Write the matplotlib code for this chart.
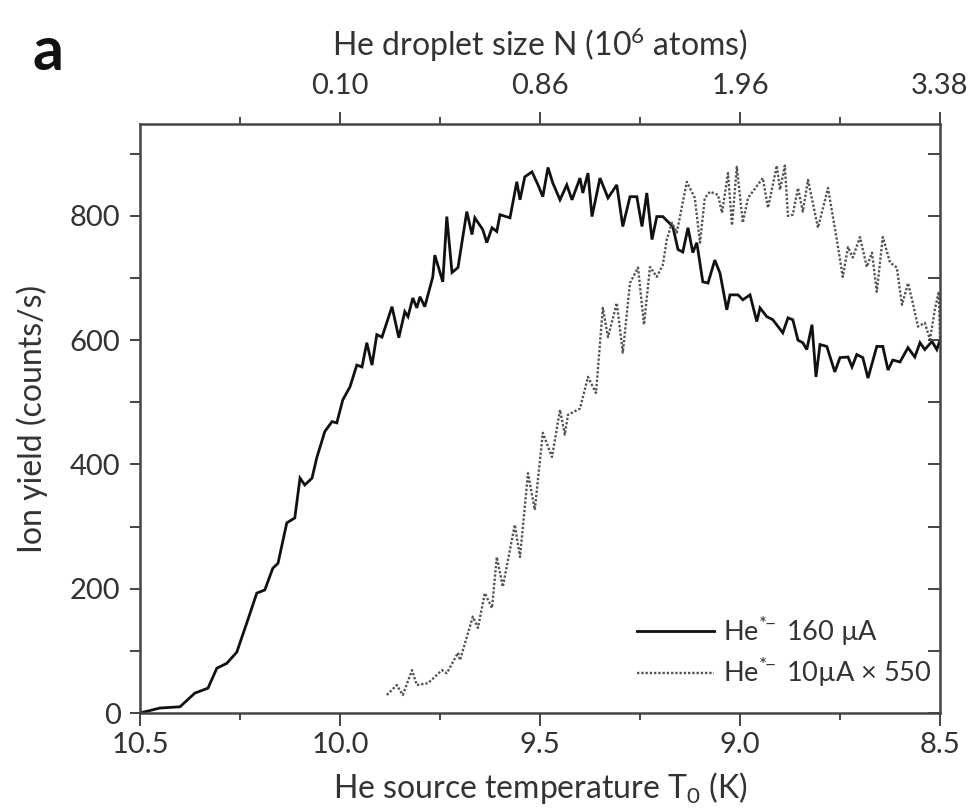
import matplotlib
matplotlib.use("Agg")
import matplotlib.pyplot as plt
from matplotlib import font_manager
from matplotlib.ticker import MultipleLocator, FixedLocator

# ---------------- data ----------------
t_160 = [10.500, 10.450, 10.400, 10.363, 10.330, 10.308, 10.283, 10.258, 10.233, 10.208,
         10.188, 10.168, 10.155, 10.133, 10.113, 10.100, 10.088, 10.070, 10.058, 10.038,
         10.020, 10.008, 9.993, 9.975, 9.958, 9.945, 9.933, 9.920, 9.908, 9.895,
         9.870, 9.853, 9.838, 9.830, 9.818, 9.808, 9.800, 9.788, 9.768, 9.763,
         9.743, 9.733, 9.720, 9.705, 9.683, 9.670, 9.663, 9.643, 9.633, 9.620,
         9.608, 9.600, 9.575, 9.558, 9.550, 9.538, 9.520, 9.505, 9.493, 9.480,
         9.468, 9.450, 9.433, 9.420, 9.400, 9.393, 9.380, 9.370, 9.350, 9.330,
         9.308, 9.293, 9.275, 9.258, 9.245, 9.233, 9.220, 9.208, 9.193, 9.168,
         9.155, 9.143, 9.130, 9.118, 9.108, 9.093, 9.080, 9.063, 9.050, 9.033,
         9.025, 9.005, 8.993, 8.975, 8.958, 8.950, 8.933, 8.918, 8.893, 8.880,
         8.868, 8.855, 8.843, 8.833, 8.820, 8.810, 8.800, 8.783, 8.763, 8.750,
         8.730, 8.720, 8.708, 8.693, 8.680, 8.658, 8.643, 8.630, 8.618, 8.600,
         8.580, 8.563, 8.550, 8.538, 8.520, 8.508, 8.500]
y_160 = [0, 8, 10, 32, 40, 72, 80, 98, 145, 193,
         198, 233, 241, 306, 314, 378, 367, 378, 411, 453,
         469, 467, 504, 525, 560, 557, 596, 560, 609, 605,
         654, 604, 646, 638, 668, 652, 670, 654, 702, 737,
         694, 799, 709, 717, 807, 770, 797, 778, 757, 781,
         775, 802, 797, 855, 826, 863, 871, 850, 831, 878,
         853, 826, 850, 826, 861, 837, 869, 799, 861, 829,
         850, 783, 831, 831, 783, 837, 762, 799, 799, 783,
         746, 742, 781, 741, 757, 694, 692, 729, 708, 649,
         673, 673, 665, 673, 630, 652, 638, 633, 612, 636,
         633, 600, 596, 585, 625, 541, 593, 590, 549, 572,
         573, 557, 577, 572, 539, 590, 590, 552, 568, 565,
         588, 573, 596, 585, 598, 585, 600]

t_10 = [9.883, 9.858, 9.843, 9.820, 9.808, 9.780, 9.745, 9.733, 9.705, 9.700,
        9.668, 9.655, 9.638, 9.620, 9.608, 9.593, 9.563, 9.550, 9.530, 9.513,
        9.493, 9.470, 9.450, 9.438, 9.430, 9.400, 9.380, 9.360, 9.343, 9.330,
        9.308, 9.293, 9.275, 9.255, 9.240, 9.225, 9.208, 9.193, 9.183, 9.170,
        9.158, 9.133, 9.113, 9.100, 9.088, 9.075, 9.055, 9.045, 9.030, 9.020,
        9.008, 8.993, 8.980, 8.943, 8.930, 8.908, 8.900, 8.888, 8.880, 8.868,
        8.855, 8.843, 8.830, 8.805, 8.780, 8.758, 8.743, 8.730, 8.718, 8.700,
        8.683, 8.670, 8.658, 8.643, 8.625, 8.608, 8.595, 8.580, 8.568, 8.555,
        8.538, 8.525, 8.513, 8.503, 8.500]
y_10 = [29, 45, 29, 69, 45, 48, 69, 64, 97, 85,
        155, 137, 193, 169, 251, 203, 303, 251, 386, 327,
        451, 412, 488, 448, 480, 490, 541, 515, 652, 605,
        660, 580, 692, 717, 625, 718, 702, 721, 762, 789,
        773, 855, 829, 757, 829, 839, 834, 805, 869, 785,
        879, 789, 829, 861, 813, 881, 842, 881, 800, 802,
        845, 807, 858, 781, 845, 762, 702, 750, 733, 766,
        718, 741, 678, 766, 725, 717, 657, 692, 660, 622,
        628, 601, 649, 678, 600]

x_ticks = [10.5, 10.0, 9.5, 9.0, 8.5]
x_ticklabels = ["10.5", "10.0", "9.5", "9.0", "8.5"]
y_ticks = [0, 200, 400, 600, 800]
top_ticks = [10.0, 9.5, 9.0, 8.5]
top_ticklabels = ["0.10", "0.86", "1.96", "3.38"]

label_160 = r"He$^{*\!\!-}$ 160 µA"
label_10 = r"He$^{*\!\!-}$ 10µA × 550"

# ---------------- fonts ----------------
FONT = "Lato"
FS_TICK = 21
FS_LABEL = 23
FS_LEG = 19.5

plt.rcParams["font.family"] = [FONT, "DejaVu Sans"]
plt.rcParams["mathtext.fontset"] = "custom"
plt.rcParams["mathtext.rm"] = FONT
plt.rcParams["mathtext.it"] = FONT
plt.rcParams["mathtext.bf"] = FONT

TXT = "#333333"
SP = "#444444"

fig = plt.figure(figsize=(9.73, 8.11), dpi=100)
ax = fig.add_axes([140 / 973, 1 - 713 / 811, 800 / 973, 589 / 811])

ax.plot(t_160, y_160, color="#111111", lw=2.0, solid_joinstyle="miter", label=label_160)
ax.plot(t_10, y_10, color="#555555", lw=1.7, linestyle=(0, (1, 0.8)), label=label_10)

ax.set_xlim(10.5, 8.5)
ax.set_ylim(0, 948)

ax.xaxis.set_major_locator(FixedLocator(x_ticks))
ax.set_xticklabels(x_ticklabels)
ax.xaxis.set_minor_locator(MultipleLocator(0.25))
ax.yaxis.set_major_locator(FixedLocator(y_ticks))
ax.yaxis.set_minor_locator(MultipleLocator(100))

ax.tick_params(axis="x", which="major", direction="out", length=9, width=1.4,
               colors=SP, labelcolor=TXT, labelsize=FS_TICK, pad=5)
ax.tick_params(axis="x", which="minor", direction="out", length=5, width=1.4, colors=SP)
ax.tick_params(axis="y", which="both", direction="out", length=7, width=1.4,
               colors=SP, labelcolor=TXT, labelsize=FS_TICK, pad=7, right=False)

for s in ax.spines.values():
    s.set_linewidth(1.8)
    s.set_color(SP)

ax.set_xlabel(r"He source temperature T$_0$ (K)", fontsize=FS_LABEL, color=TXT, labelpad=8)
ax.set_ylabel("Ion yield (counts/s)", fontsize=FS_LABEL, color=TXT, labelpad=16)

# right axis: inward ticks only
axr = ax.twinx()
axr.set_ylim(ax.get_ylim())
axr.yaxis.set_major_locator(MultipleLocator(100))
axr.tick_params(axis="y", which="major", direction="in", length=9, width=1.4,
                colors=SP, labelright=False)
axr.tick_params(axis="y", which="minor", right=False)
for s in axr.spines.values():
    s.set_visible(False)

# top axis
axt = ax.twiny()
axt.set_xlim(ax.get_xlim())
axt.xaxis.set_major_locator(FixedLocator(top_ticks))
axt.set_xticklabels(top_ticklabels)
axt.xaxis.set_minor_locator(FixedLocator([10.25, 9.75, 9.25, 8.75]))
axt.tick_params(axis="x", which="major", direction="out", length=9, width=1.4,
                colors=SP, labelcolor=TXT, labelsize=FS_TICK, pad=9)
axt.tick_params(axis="x", which="minor", direction="out", length=5, width=1.4, colors=SP)
axt.set_xlabel(r"He droplet size N (10$^6$ atoms)", fontsize=FS_LABEL, color=TXT, labelpad=12)
for s in axt.spines.values():
    s.set_visible(False)

leg = ax.legend(loc="upper left", bbox_to_anchor=(0.621, 0.168), frameon=False,
                fontsize=FS_LEG, handlelength=2.85, handletextpad=0.35, labelspacing=0.3,
                borderpad=0, borderaxespad=0)
for txt in leg.get_texts():
    txt.set_color(TXT)

fig.text(33 / 973, 1 - 70 / 811, "a", fontsize=44, fontweight="bold", color="#111111")

fig.savefig("out.png", dpi=100)
